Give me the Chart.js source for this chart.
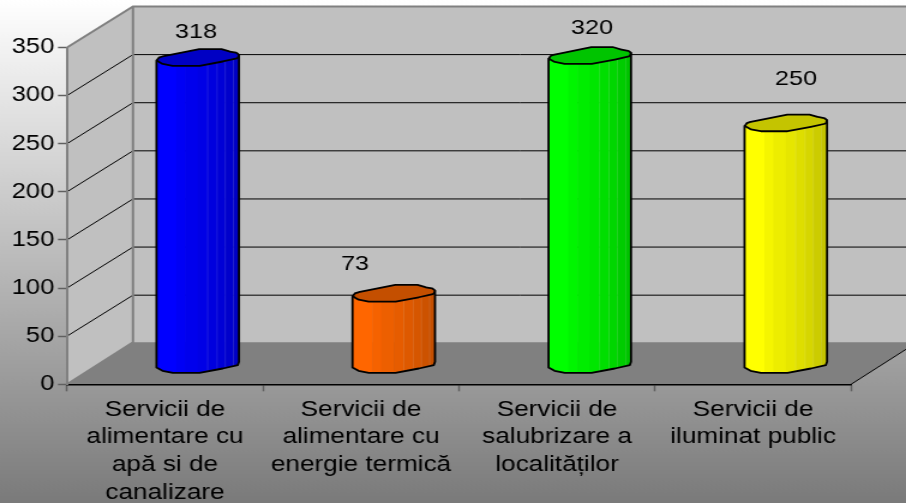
<!DOCTYPE html>
<html>
<head>
<meta charset="utf-8">
<style>
  html, body { margin: 0; padding: 0; overflow: hidden; background: #808080; }
  /* the reference is a stretched picture, so the whole canvas gets stretched too */
  #wrap { width: 906px; height: 503px; overflow: hidden; }
  #chart { transform: scaleX(1.2); transform-origin: 0 0; }
</style>
<script src="https://cdn.jsdelivr.net/npm/chart.js@4"></script>
</head>
<body>
<div id="wrap"><canvas id="chart" width="755" height="503"></canvas></div>
<script>
const categories = [
  ['Servicii de', 'alimentare cu', 'apă si de', 'canalizare'],
  ['Servicii de', 'alimentare cu', 'energie termică'],
  ['Servicii de', 'salubrizare a', 'localităților'],
  ['Servicii de', 'iluminat public']
];
const values = [318, 73, 320, 250];
const barColors = ['#0000ff', '#ff6600', '#00ff00', '#ffff00'];
const yMax = 350;
const yStep = 50;

const FONT = '"Liberation Sans", Arial, sans-serif';
const DEPTH_X = 55; // 66px on screen, canvas is stretched 1.2x
const DEPTH_Y = 41;
const FLOOR_DEPTH_Y = 42;
const XS = 1.2;

// label nudges from the top of each bar, in screen px
const labelNudge = [[-2, -25.5], [-39, -29], [2, -27.5], [10, -44.5]];

// outline of the cylinder cap around its centre, clockwise from the left edge
const capOutline = [
  [-41.5, 2.7], [-39, -0.2], [-35.5, -1.3], [1.5, -8.7], [23.2, -8.7], [31.5, -6.3], [38.5, -5], [41, -3],
  [39.8, 0.3], [24.8, 3.7], [1.5, 8], [-25.2, 8], [-35.5, 6]
];
const RIGHT_EDGE = 7; // index of the right-most outline point
const bandStops = [0, 0.24, 0.35, 0.5, 0.615, 0.73, 0.83, 0.93, 1];
const bandShade = [1, 0.96, 0.93, 0.9, 0.87, 0.84, 0.8, 0.77];

function shade(hex, f) {
  const n = parseInt(hex.slice(1), 16);
  const r = Math.round((n >> 16 & 255) * f);
  const g = Math.round((n >> 8 & 255) * f);
  const b = Math.round((n & 255) * f);
  return `rgb(${r},${g},${b})`;
}

// rounded polygon through the points, straight runs stay straight
function roundedPath(ctx, pts, r) {
  const last = pts[pts.length - 1];
  ctx.beginPath();
  ctx.moveTo((last[0] + pts[0][0]) / 2, (last[1] + pts[0][1]) / 2);
  pts.forEach((p, i) => {
    const next = pts[(i + 1) % pts.length];
    ctx.arcTo(p[0], p[1], next[0], next[1], r);
  });
  ctx.closePath();
}

function drawCylinder(ctx, cx, topY, baseY, color) {
  const at = (p, y) => [cx + p[0] / XS, y + p[1]];
  // sides come down from the cap edges, base follows the cap's front half
  const bodyPts = [at(capOutline[0], topY), at(capOutline[RIGHT_EDGE], topY)]
    .concat(capOutline.slice(RIGHT_EDGE).concat([capOutline[0]]).map(p => at(p, baseY)));
  const bodyPath = () => {
    ctx.beginPath();
    bodyPts.forEach((p, i) => (i ? ctx.lineTo(p[0], p[1]) : ctx.moveTo(p[0], p[1])));
    ctx.closePath();
  };
  const left = cx - 41.5 / XS;
  const w = 82.5 / XS;

  ctx.save();
  bodyPath();
  ctx.clip();
  bandShade.forEach((f, i) => {
    ctx.fillStyle = shade(color, f);
    const x0 = left + bandStops[i] * w;
    const x1 = left + bandStops[i + 1] * w;
    ctx.fillRect(x0, topY - 10, x1 - x0 + 0.5, baseY - topY + 25);
    // thin lighter seams on the shaded side
    if (i >= 4) {
      ctx.fillStyle = 'rgba(255,255,255,0.16)';
      ctx.fillRect(x0, topY - 10, 0.7, baseY - topY + 25);
    }
  });
  ctx.restore();

  ctx.lineWidth = 1.8;
  ctx.strokeStyle = '#000';
  ctx.lineJoin = 'round';
  bodyPath();
  ctx.stroke();

  roundedPath(ctx, capOutline.map(p => at(p, topY)), 1.5);
  ctx.fillStyle = shade(color, 0.77);
  ctx.fill();
  ctx.stroke();
}

const stagePlugin = {
  id: 'stage',
  beforeDraw(chart) {
    const { ctx, scales: { x, y }, width, height } = chart;
    const left = x.left, right = x.right;
    const top = y.top, bottom = y.bottom;

    const bg = ctx.createLinearGradient(0, 0, 0, height);
    bg.addColorStop(0, '#ffffff');
    bg.addColorStop(1, '#7a7a7a');
    ctx.fillStyle = bg;
    ctx.fillRect(0, 0, width, height);

    ctx.save();
    // back wall
    ctx.fillStyle = '#c0c0c0';
    ctx.fillRect(left + DEPTH_X, top - DEPTH_Y, right - left, bottom - top);

    // side wall
    ctx.beginPath();
    ctx.moveTo(left, bottom);
    ctx.lineTo(left, top);
    ctx.lineTo(left + DEPTH_X, top - DEPTH_Y);
    ctx.lineTo(left + DEPTH_X, bottom - FLOOR_DEPTH_Y);
    ctx.closePath();
    ctx.fill();

    // floor
    ctx.fillStyle = '#808080';
    ctx.beginPath();
    ctx.moveTo(left, bottom);
    ctx.lineTo(right, bottom);
    ctx.lineTo(right + DEPTH_X, bottom - FLOOR_DEPTH_Y);
    ctx.lineTo(left + DEPTH_X, bottom - FLOOR_DEPTH_Y);
    ctx.closePath();
    ctx.fill();

    // gridlines follow the side wall, then run along the back wall
    ctx.strokeStyle = '#000';
    ctx.lineWidth = 1;
    y.ticks.forEach(t => {
      if (t.value === 0 || t.value === yMax) return;
      const py = y.getPixelForValue(t.value);
      ctx.beginPath();
      ctx.moveTo(left, py);
      ctx.lineTo(left + DEPTH_X, py - DEPTH_Y);
      ctx.lineTo(right + DEPTH_X, py - DEPTH_Y);
      ctx.stroke();
    });

    // wall edges
    ctx.strokeStyle = '#808080';
    ctx.lineWidth = 2;
    ctx.beginPath();
    ctx.moveTo(left, bottom);
    ctx.lineTo(left + DEPTH_X, bottom - FLOOR_DEPTH_Y);
    ctx.lineTo(left + DEPTH_X, top - DEPTH_Y);
    ctx.moveTo(left, top);
    ctx.lineTo(left + DEPTH_X, top - DEPTH_Y);
    ctx.lineTo(right + DEPTH_X, top - DEPTH_Y);
    ctx.stroke();

    // floor edge on the right
    ctx.strokeStyle = '#000';
    ctx.lineWidth = 1;
    ctx.beginPath();
    ctx.moveTo(right, bottom);
    ctx.lineTo(right + DEPTH_X, bottom - FLOOR_DEPTH_Y);
    ctx.stroke();
    ctx.restore();
  },
  beforeDatasetDraw(chart, args) {
    const { ctx, scales: { y } } = chart;
    const meta = chart.getDatasetMeta(args.index);
    const baseY = y.getPixelForValue(0) - DEPTH_Y / 2 + 1;
    ctx.save();
    meta.data.forEach((bar, i) => {
      const cx = bar.x + DEPTH_X / 2;
      const topY = y.getPixelForValue(values[i]) - DEPTH_Y / 2;
      drawCylinder(ctx, cx, topY, baseY, barColors[i]);
      ctx.fillStyle = '#000';
      ctx.font = `21px ${FONT}`;
      ctx.textAlign = 'center';
      ctx.textBaseline = 'middle';
      ctx.fillText(String(values[i]), cx + labelNudge[i][0] / XS, topY + labelNudge[i][1]);
    });
    ctx.restore();
    return false; // cylinders replace the flat bars
  }
};

new Chart(document.getElementById('chart'), {
  type: 'bar',
  data: {
    labels: categories,
    datasets: [{ data: values, backgroundColor: barColors }]
  },
  plugins: [stagePlugin],
  options: {
    responsive: false,
    animation: false,
    layout: { padding: { top: 47.5, right: 45.8, left: 0, bottom: 0 } },
    plugins: { legend: { display: false }, tooltip: { enabled: false } },
    scales: {
      x: {
        afterFit: s => { s.height = 118.7; },
        grid: { drawOnChartArea: false, tickLength: 7, tickColor: '#606060', tickWidth: 1.5 },
        border: { color: '#000', width: 1.5 },
        ticks: {
          color: '#000',
          padding: 4.5,
          maxRotation: 0,
          minRotation: 0,
          autoSkip: false,
          font: { family: FONT, size: 21.8, lineHeight: 1.27 }
        }
      },
      y: {
        min: 0,
        max: yMax,
        afterFit: s => { s.width = 55.8; },
        grid: { drawOnChartArea: false, tickLength: 7.5, tickColor: '#606060', tickWidth: 1.5 },
        border: { color: '#808080', width: 2 },
        ticks: {
          stepSize: yStep,
          color: '#000',
          padding: 3,
          font: { family: FONT, size: 21.3 }
        }
      }
    }
  }
});
</script>
</body>
</html>
